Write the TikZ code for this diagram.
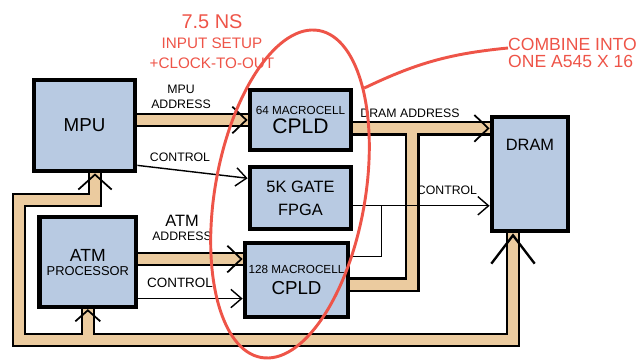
\documentclass[tikz,border=0pt]{standalone}
\usepackage{fontspec}
\setmainfont{Liberation Sans}
\definecolor{boxblue}{HTML}{B8CAE2}
\definecolor{busfill}{HTML}{EBCB9F}
\definecolor{markred}{HTML}{EE5448}
\usetikzlibrary{arrows.meta,positioning,shapes.geometric,calc}

\begin{document}
\begin{tikzpicture}[x=0.03cm, y=0.03cm,
  box/.style={draw=black, line width=3.5pt, fill=boxblue, align=center, inner sep=1pt},
  lbl/.style={font=\fontsize{10.5}{12.5}\selectfont, align=center, inner sep=0pt},
  busedge/.style={draw=black, line width=0.44cm},
  busbody/.style={draw=busfill, line width=0.3cm},
  busarrow/.style={line width=1.5pt, -{Straight Barb[length=0.42cm,width=0.8cm]}},
  ctrl/.style={line width=1.2pt, -{Straight Barb[length=0.32cm,width=0.55cm]}},
  redink/.style={draw=markred, line width=2.5pt},
  note/.style={text=markred, align=center, inner sep=0pt},
]
  \useasboundingbox (0,0) rectangle (644,363);

  \node[box, minimum width=3.05cm, minimum height=2.75cm,
    font=\fontsize{16}{19}\selectfont] (mpu) at (84.5,237.5) {MPU};
  \node[box, minimum width=2.9cm, minimum height=2.69cm,
    below=1.26cm of mpu, xshift=0.1cm] (atm)
    {\fontsize{15}{15}\selectfont ATM\\ \fontsize{11}{13}\selectfont PROCESSOR};

  \node[box, minimum width=3.05cm, minimum height=1.82cm] (cpldA) at (300.5,243)
    {\fontsize{10}{12}\selectfont 64 MACROCELL\\[3pt] \fontsize{18}{20}\selectfont CPLD};
  \node[box, minimum width=3.05cm, minimum height=1.85cm,
    font=\fontsize{14}{16}\selectfont, below=0.39cm of cpldA] (fpga)
    {5K GATE\\[3pt] FPGA};
  \node[box, minimum width=3.11cm, minimum height=2.21cm,
    below=0.3cm of fpga, xshift=-0.12cm] (cpldB)
    {\fontsize{10}{12}\selectfont 128 MACROCELL\\[6pt] \fontsize{16}{18}\selectfont CPLD};

  \node[box, minimum width=2.3cm, minimum height=3.44cm,
    label={[anchor=north, yshift=-0.6cm, font=\fontsize{14}{16}\selectfont]north:DRAM}]
    (dram) at (530,189) {};

  \coordinate (daddr) at ([yshift=-0.25cm]cpldA.east);
  \coordinate (dtip) at (dram.west |- daddr);
  \coordinate (tee) at ([xshift=1.77cm]daddr);
  \coordinate (aaddr) at ([yshift=0.63cm]cpldB.west);
  \coordinate (actl) at ([yshift=-0.555cm]cpldB.west);
  \coordinate (fctl) at ([yshift=-0.225cm]fpga.east);
  \coordinate (cjoin) at ([xshift=0.84cm]fctl);
  \coordinate (dbot) at ([xshift=-0.51cm]dram.south);
  \coordinate (mbot) at ([xshift=0.315cm]mpu.south);
  \coordinate (loopSW) at (19,23);
  \coordinate (loopNW) at (19,163);

  \foreach \s in {busedge,busbody}{
    \draw[\s] (mpu.east |- cpldA.west) -- (cpldA.west);
    \draw[\s] (daddr) -- (dtip);
    \draw[\s] ([yshift=-0.135cm]cpldB.east) -| (tee);
    \draw[\s] (atm.east |- aaddr) -- (aaddr);
    \draw[\s] (dbot) |- (loopSW) -- (loopNW) -| (mbot);
    \draw[\s] (atm.south |- loopSW) -- (atm.south);
  }

  \draw[busarrow] ([xshift=-1pt]cpldA.west) -- (cpldA.west);
  \draw[busarrow] ([xshift=-1pt]dtip) -- (dtip);
  \draw[busarrow] ([xshift=-1pt]aaddr) -- (aaddr);
  \draw[busarrow, line width=2pt, -{Straight Barb[length=0.85cm,width=1.3cm]}]
    ([yshift=-1pt]dbot) -- (dbot);
  \draw[busarrow, -{Straight Barb[length=0.45cm,width=1cm]}]
    ([yshift=-1pt]mbot) -- (mbot);
  \draw[busarrow, -{Straight Barb[length=0.33cm,width=0.75cm]}]
    ([yshift=-1pt]atm.south) -- (atm.south);

  \draw[ctrl] ([yshift=0.24cm]mpu.south east) -- ([yshift=0.6cm]fpga.west);
  \draw[ctrl] (atm.east |- actl) -- (actl);
  \draw[ctrl] (fctl) -- (dram.west |- fctl);
  \draw[line width=1.2pt] ([yshift=0.7cm]cpldB.east) -| (cjoin);

  \node[lbl] (mpuaddr) at (181,266) {MPU\\ADDRESS};
  \node[lbl] (mpuctl) at (180,206) {CONTROL};
  \node[lbl] (dramaddr) at (410,250) {DRAM ADDRESS};
  \node[lbl] (dramctl) at (447,173) {CONTROL};
  \node[lbl] (atmaddr) at (182,135)
    {\fontsize{14}{14}\selectfont ATM\\ \fontsize{10.5}{12.5}\selectfont ADDRESS};
  \node[lbl, font=\fontsize{11.5}{13}\selectfont] (atmctl) at (180,80) {CONTROL};

  \node[note, font=\fontsize{13}{17}\selectfont] (timing) at (212,321)
    {{\fontsize{17}{17}\selectfont 7.5 NS}\\INPUT SETUP\\+CLOCK-TO-OUT};
  \node[note, font=\fontsize{15}{15}\selectfont, align=left, anchor=west]
    (combine) at (508,310) {COMBINE INTO\\ONE A545 X 16};
  \node[redink, ellipse, minimum width=9.96cm, minimum height=4.5cm,
    rotate=80, inner sep=0pt] (ring) at (290,169) {};
  \draw[redink] (ring.-25) to[bend left=10] ([yshift=0.15cm]combine.west);
\end{tikzpicture}
\end{document}
